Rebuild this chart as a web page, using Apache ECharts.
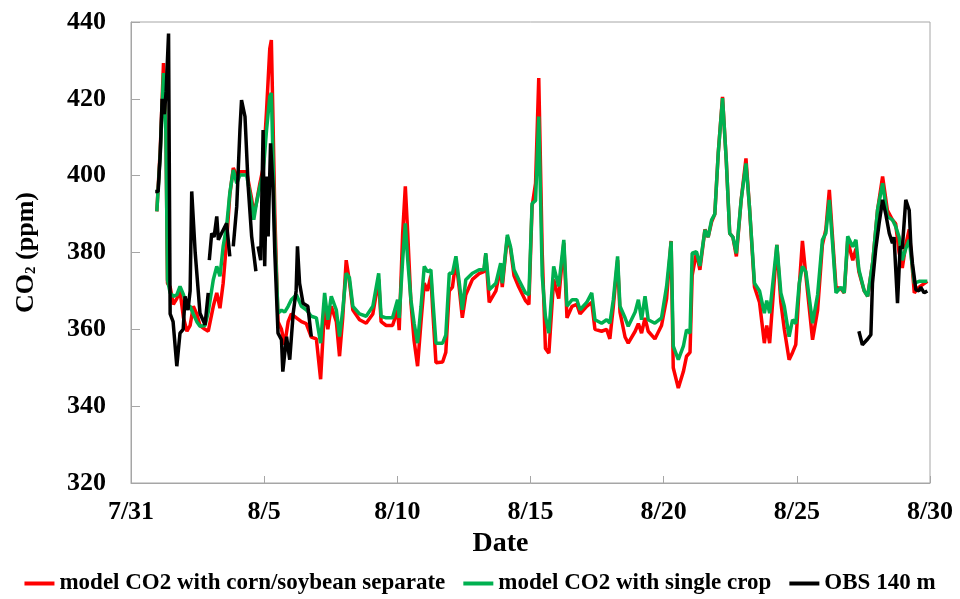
<!DOCTYPE html>
<html>
<head>
<meta charset="utf-8">
<script src="https://cdn.jsdelivr.net/npm/echarts@6/dist/echarts.min.js"></script>
<style>html,body{margin:0;padding:0;background:#fff}#c{width:960px;height:599px}</style>
</head>
<body>
<div id="c"></div>
<script>
// x positions are days since 7/31 00:00
var tickLabels = ['7/31', '8/5', '8/10', '8/15', '8/20', '8/25', '8/30'];
var seriesNames = ['model CO2 with corn/soybean separate', 'model CO2 with single crop', 'OBS 140 m'];

var modelDays = [0.97,1.10,1.22,1.31,1.37,1.47,1.59,1.72,1.84,1.97,2.10,2.22,2.34,2.47,2.59,2.78,2.90,3.09,3.22,3.34,3.46,3.59,3.71,3.84,3.97,4.09,4.34,4.53,4.61,4.71,4.84,4.96,5.09,5.21,5.27,5.33,5.40,5.52,5.65,5.77,5.90,6.02,6.21,6.40,6.58,6.77,6.96,7.12,7.27,7.39,7.52,7.71,7.83,7.95,8.08,8.20,8.33,8.58,8.83,9.08,9.30,9.39,9.58,9.82,10.01,10.07,10.20,10.30,10.39,10.51,10.63,10.76,10.89,11.01,11.13,11.26,11.32,11.45,11.70,11.82,11.95,12.07,12.20,12.32,12.44,12.57,12.82,13.07,13.25,13.32,13.45,13.70,13.88,13.94,14.13,14.25,14.38,14.56,14.81,14.94,15.06,15.19,15.31,15.44,15.56,15.69,15.87,16.06,16.25,16.37,16.56,16.74,16.86,17.11,17.30,17.42,17.67,17.86,17.98,18.11,18.27,18.36,18.55,18.67,18.93,19.05,19.17,19.30,19.42,19.67,19.92,20.11,20.28,20.36,20.55,20.74,20.86,20.99,21.07,21.23,21.36,21.55,21.67,21.80,21.92,22.05,22.21,22.35,22.48,22.60,22.73,22.91,23.09,23.22,23.41,23.60,23.78,23.87,23.98,24.25,24.40,24.53,24.71,24.84,24.96,25.09,25.21,25.34,25.59,25.78,25.96,26.09,26.22,26.35,26.47,26.66,26.78,26.91,27.10,27.22,27.33,27.53,27.66,27.85,28.03,28.22,28.40,28.59,28.71,28.84,28.96,29.09,29.22,29.41,29.59,29.90];

var modelSeparate = [390.7,407,429.3,413,372,371,366.5,368,370,363,359.5,361,366,364,361,360,359.5,366,369.5,365.5,372,383,395,402,400,401,401,394,390,393,398,402,417,433,435.3,415,390,362,360,356,362,364,363,362,361.5,358,357.5,347,366,360,366,362,353,363,378,372.5,365,362.5,361.6,364,373,362,361,361,365,359.8,385,397.2,385,367,357,350.4,362,372,370,374,366,351.3,351.5,354,370,371,378,371,363,369,373,374.5,375,379.5,367,370,376,371,384,381,374,371,367.5,366.5,392,398,425.4,380,355,353.8,373,368,382.5,363,366,366.5,364,366,367,360,359.5,360,357.5,366,378,364.5,358,356.4,359.5,361.5,359,363,359.5,357.5,361,368,383,350,344.7,349,353,354,374,380,375.5,386,384,388,390,406,420.5,404,385,384,379,393.7,404.5,392,371,367,356.4,361,356.4,382,367,360,352.1,354,356,371,383,374,357.3,365,382,386,396.3,383,371,370.5,369.5,383,378,381,375,370,368.6,377.5,391,399.8,391,388.5,387.5,380,376,382,386,369.5,371,372.5];

var modelSingle = [390.7,405.9,426.7,411,372.9,369.5,368.6,369,371.2,369,366,366,364,362,360.8,361,364.5,372.9,376.4,373.8,381.6,386.8,395.5,401.5,398,400.2,400.2,392.8,388.5,392.8,397.2,400.6,411.9,420.6,421.5,405,384.2,364.2,365,364.5,366,367.7,369,366,365.1,363.4,363,356.4,369.5,362.5,368.6,365,358.1,365,374.6,373.5,366,364,363.4,366,374.6,363.4,363,363,367.7,363,378,387.6,378,367.7,361.6,356.4,366,376.4,375,375.5,369,356.4,356.4,358.5,374.6,374.6,379,372.5,365.1,372.9,374.6,375.5,375.5,379.8,370.3,372,377.2,372,384.6,381.5,375.5,372.9,369.5,369,392.8,393.5,415.4,374,363.4,359,376.4,371.2,383.3,366,367.7,367.7,365.1,367,369.5,362.5,361.6,362.5,361.6,367.7,379,366,363,360.8,364.5,367.7,362.5,368.6,362.5,361.6,363,371.2,382.9,355.6,352.1,355.6,359.9,359,379.8,380.2,376.5,385.9,384,388.5,390,405.9,420.2,404.1,385,384,379.8,393.7,403.2,392,372,370,364.2,367.5,364.2,382,369.5,366,358.1,362.5,361.5,372,376.4,375,361.6,369,383.3,385,393.7,381.5,369.5,371,369.5,384.2,381.5,383.3,375.5,370,368.6,377.5,391.1,398,389.4,388.5,386.8,384,378,381,383.3,372,372.5,372.5];

var obsDays = [0.91,1.02,1.10,1.17,1.25,1.32,1.41,1.47,1.58,1.72,1.84,1.96,2.03,2.14,2.22,2.28,2.41,2.59,2.78,2.90,2.92,2.94,3.03,3.12,3.22,3.28,3.40,3.59,3.71,3.78,3.84,3.97,4.09,4.15,4.28,4.40,4.53,4.69,4.73,4.77,4.87,4.96,5.02,5.09,5.15,5.24,5.33,5.40,5.52,5.65,5.70,5.84,5.96,6.09,6.20,6.25,6.33,6.46,6.64,6.77,
  7.5,
  27.33,27.46,27.66,27.78,27.84,27.96,28.09,28.22,28.34,28.47,28.59,28.65,28.78,28.88,28.96,29.09,29.22,29.28,29.34,29.47,29.59,29.65,29.78,29.90];
var obsValues = [395.9,395.9,406,420,416,422,437,364,362,350.4,359,360,368.6,365,370,395.9,380,364.2,361.2,369.5,null,378,385,384,389.4,383.3,385,387.6,379,null,381.6,392,411.9,419.7,415.4,397.2,384.2,375.1,null,381.6,378,411.9,376.4,399.8,384.2,408.4,397.2,379.8,359,357.3,349,358.1,352.1,364.2,370,381.6,372,366.8,366,358.1,
  null,
  359.5,356,357.5,358.6,372,380.7,387.6,393.7,390,385,382.4,384,366.8,381.6,381,393.7,391,382,377.2,370.3,370,371,369.5,370];

function pairs(xs, ys) { return xs.map(function (x, i) { return [x, ys[i]]; }); }

var serif = 'Liberation Serif';
var chart = echarts.init(document.getElementById('c'));
chart.setOption({
  animation: false,
  backgroundColor: '#ffffff',
  grid: { left: 131, right: 30, top: 22, bottom: 116, show: true, borderColor: '#a6a6a6', borderWidth: 1 },
  legend: {
    top: 572, left: 'center', itemGap: 18, itemWidth: 30, itemHeight: 4, icon: 'rect', padding: 0,
    textStyle: { fontFamily: serif, fontWeight: 'bold', fontSize: 23, color: '#000' },
    data: seriesNames
  },
  xAxis: {
    type: 'value', min: 0, max: 30, interval: 5,
    name: 'Date', nameLocation: 'middle', nameGap: 46,
    nameTextStyle: { fontFamily: serif, fontWeight: 'bold', fontSize: 28, color: '#000', padding: [0, 60, 0, 0] },
    axisLine: { lineStyle: { color: '#a6a6a6', width: 1 } },
    axisTick: { inside: true, length: 7, lineStyle: { color: '#a6a6a6' } },
    splitLine: { show: false },
    axisLabel: {
      margin: 16, fontFamily: serif, fontWeight: 'bold', fontSize: 26, color: '#000',
      formatter: function (v) { return tickLabels[Math.round(v / 5)]; }
    }
  },
  yAxis: {
    type: 'value', min: 320, max: 440, interval: 20,
    name: 'CO{sub|2} (ppm)', nameLocation: 'middle', nameGap: 92, nameRotate: 90,
    nameTextStyle: {
      fontFamily: serif, fontWeight: 'bold', fontSize: 26, color: '#000',
      rich: { sub: { fontFamily: serif, fontWeight: 'bold', fontSize: 15, color: '#000', padding: [10, 0, 0, 0] } }
    },
    axisLine: { show: true, lineStyle: { color: '#a6a6a6', width: 1 } },
    axisTick: { show: true, inside: true, length: 9, lineStyle: { color: '#a6a6a6' } },
    splitLine: { show: false },
    axisLabel: { margin: 25, fontFamily: serif, fontWeight: 'bold', fontSize: 26, color: '#000' }
  },
  series: [
    { name: seriesNames[0], type: 'line', showSymbol: false, symbol: 'none', color: '#ff0000',
      lineStyle: { width: 3.5, color: '#ff0000' }, data: pairs(modelDays, modelSeparate) },
    { name: seriesNames[1], type: 'line', showSymbol: false, symbol: 'none', color: '#00b050',
      lineStyle: { width: 3.5, color: '#00b050' }, data: pairs(modelDays, modelSingle) },
    { name: seriesNames[2], type: 'line', showSymbol: false, symbol: 'none', color: '#000000', connectNulls: false,
      lineStyle: { width: 3.5, color: '#000000' }, data: pairs(obsDays, obsValues) }
  ]
});
</script>
</body>
</html>
